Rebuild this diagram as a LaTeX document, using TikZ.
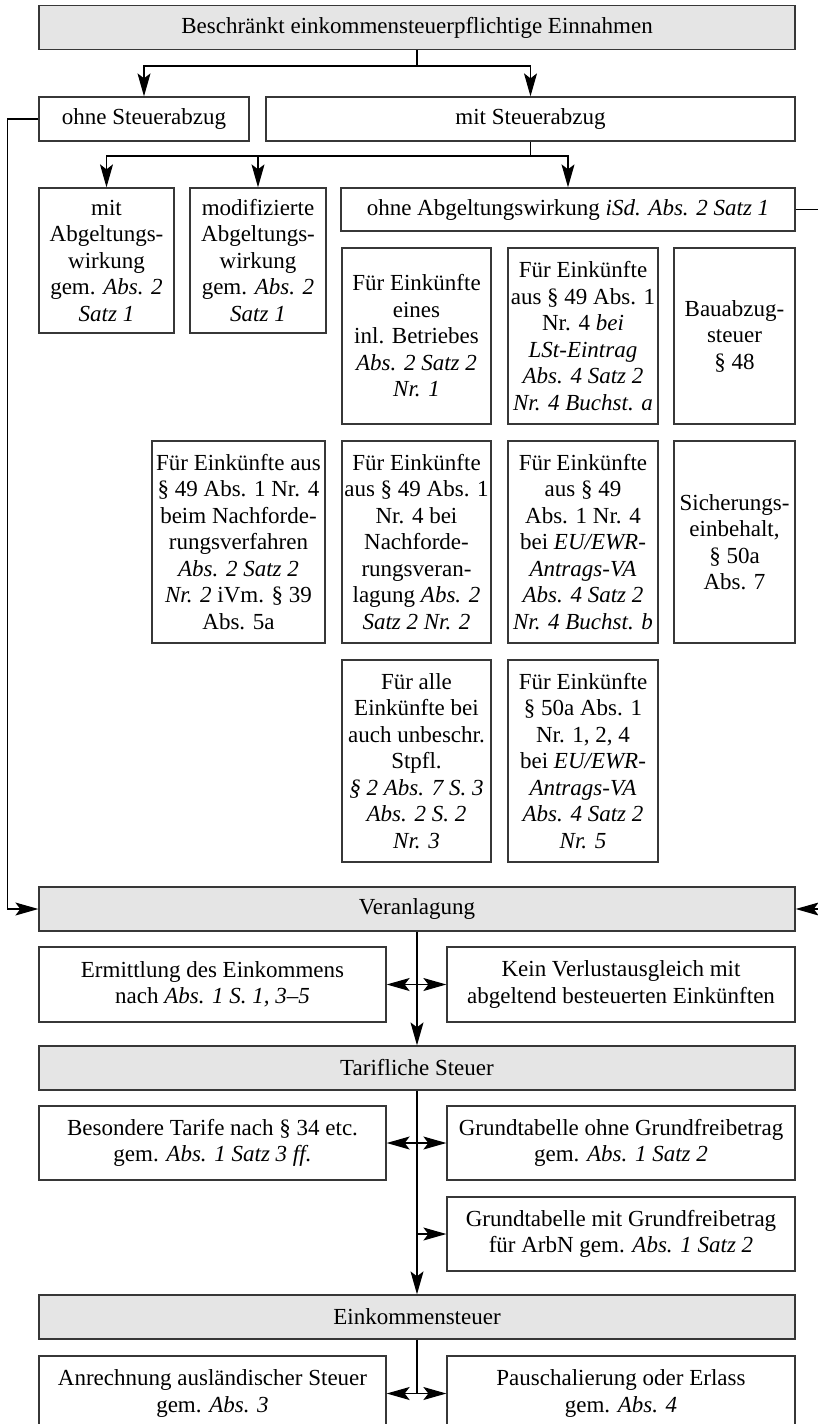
\documentclass[tikz,border=0pt]{standalone}
\usepackage{fontspec}
\setmainfont{Liberation Serif}
\usetikzlibrary{arrows.meta}
\definecolor{headgray}{RGB}{229,229,229}
\definecolor{framegray}{RGB}{55,55,55}

\begin{document}
\begin{tikzpicture}[x=1pt,y=-1pt,
        font=\fontsize{23}{26.5}\selectfont,
        cellbox/.style 2 args={draw=framegray, line width=1.3pt, align=center, inner sep=1pt, minimum width=#1, minimum height=#2},
        headbox/.style={cellbox={756pt}{44pt}, fill=headgray},
        link/.style={line width=1.2pt},
        arr/.style={link, -{Stealth[length=23pt,width=13pt,inset=5pt]}},
        darr/.style={link, {Stealth[length=23pt,width=13pt,inset=5pt]}-{Stealth[length=23pt,width=13pt,inset=5pt]}}]
        \useasboundingbox (0,0) rectangle (817,1424);
        % Einnahmen
        \node[headbox] (src) at (417,27.5) {Beschränkt einkommensteuerpflichtige Einnahmen};
        \node[cellbox={210pt}{44pt}] (ohneAbz) at (144,119) {ohne Steuerabzug};
        \node[cellbox={529pt}{44pt}] (mitAbz) at (530.5,119) {mit Steuerabzug};
        \coordinate (j1) at (417,66);
        \draw[link] (src.south) -- (j1);
        \draw[arr] (j1) -| (ohneAbz.north);
        \draw[arr] (j1) -| (mitAbz.north);
        % mit Steuerabzug
        \node[cellbox={135pt}{145pt}] (mitAbg) at (106.5,260.5) {mit\\Abgeltungs-\\wirkung\\gem. \textit{Abs. 2}\\\textit{Satz 1}};
        \node[cellbox={136pt}{145pt}] (modAbg) at (258,260.5) {modifizierte\\Abgeltungs-\\wirkung\\gem. \textit{Abs. 2}\\\textit{Satz 1}};
        \node[cellbox={454pt}{43pt}] (ohneAbg) at (568,209.5) {ohne Abgeltungswirkung \textit{iSd. Abs. 2 Satz 1}};
        \coordinate (j2) at (530.5,156);
        \draw[link] (mitAbz.south) -- (j2);
        \draw[arr] (j2) -| (mitAbg.north);
        \draw[arr] (j2) -| (modAbg.north);
        \draw[arr] (j2) -| (ohneAbg.north);
        % ohne Abgeltungswirkung
        \node[cellbox={149pt}{176pt}] (betr) at (416.5,336) {Für Einkünfte\\eines\\inl. Betriebes\\\textit{Abs. 2 Satz 2}\\\textit{Nr. 1}};
        \node[cellbox={150pt}{176pt}] (lst) at (583,336) {Für Einkünfte\\aus § 49 Abs. 1\\Nr. 4 \textit{bei}\\\textit{LSt-Eintrag}\\\textit{Abs. 4 Satz 2}\\\textit{Nr. 4 Buchst. a}};
        \node[cellbox={121pt}{176pt}] (bau) at (734.5,336) {Bauabzug-\\steuer\\§ 48};
        \node[cellbox={173pt}{202pt}] (nachfVerf) at (238.5,542) {Für Einkünfte aus\\§ 49 Abs. 1 Nr. 4\\beim Nachforde-\\rungsverfahren\\\textit{Abs. 2 Satz 2}\\\textit{Nr. 2} iVm. § 39\\Abs. 5a};
        \node[cellbox={149pt}{202pt}] (nachfVeranl) at (416.5,542) {Für Einkünfte\\aus § 49 Abs. 1\\Nr. 4 bei\\Nachforde-\\rungsveran-\\lagung \textit{Abs. 2}\\\textit{Satz 2 Nr. 2}};
        \node[cellbox={150pt}{202pt}] (euewr) at (583,542) {Für Einkünfte\\aus § 49\\Abs. 1 Nr. 4\\bei \textit{EU/EWR-}\\\textit{Antrags-VA}\\\textit{Abs. 4 Satz 2}\\\textit{Nr. 4 Buchst. b}};
        \node[cellbox={121pt}{202pt}] (sich) at (734.5,542) {Sicherungs-\\einbehalt,\\§ 50a\\Abs. 7};
        \node[cellbox={149pt}{202pt}] (unbeschr) at (416.5,761) {Für alle\\Einkünfte bei\\auch unbeschr.\\Stpfl.\\\textit{§ 2 Abs. 7 S. 3}\\\textit{Abs. 2 S. 2}\\\textit{Nr. 3}};
        \node[cellbox={150pt}{202pt}] (eu50a) at (583,761) {Für Einkünfte\\§ 50a Abs. 1\\Nr. 1, 2, 4\\bei \textit{EU/EWR-}\\\textit{Antrags-VA}\\\textit{Abs. 4 Satz 2}\\\textit{Nr. 5}};
        % Veranlagung
        \node[headbox] (veranl) at (417,909) {Veranlagung};
        \draw[arr] (ohneAbz.west) -- ++(-31,0) |- (veranl.west);
        \draw[arr] (ohneAbg.east) -- ++(26,0) |- (veranl.east);
        \node[cellbox={347pt}{75pt}] (ermittl) at (212.5,984.5) {Ermittlung des Einkommens\\nach \textit{Abs. 1 S. 1, 3–5}};
        \node[cellbox={348pt}{75pt}] (keinVA) at (621,984.5) {Kein Verlustausgleich mit\\abgeltend besteuerten Einkünften};
        % Tarif
        \node[headbox] (tarif) at (417,1068) {Tarifliche Steuer};
        \draw[arr] (veranl.south) -- (tarif.north);
        \draw[darr] (ermittl.east) -- (keinVA.west);
        \node[cellbox={347pt}{74pt}] (bes) at (212.5,1143) {Besondere Tarife nach § 34 etc.\\gem. \textit{Abs. 1 Satz 3 ff.}};
        \node[cellbox={348pt}{74pt}] (gtOhne) at (621,1143) {Grundtabelle ohne Grundfreibetrag\\gem. \textit{Abs. 1 Satz 2}};
        \node[cellbox={348pt}{74pt}] (gtMit) at (621,1234) {Grundtabelle mit Grundfreibetrag\\für ArbN gem. \textit{Abs. 1 Satz 2}};
        % Einkommensteuer
        \node[headbox] (est) at (417,1317) {Einkommensteuer};
        \draw[arr] (tarif.south) -- (est.north);
        \draw[darr] (bes.east) -- (gtOhne.west);
        \draw[arr] (tarif.south |- gtMit.west) -- (gtMit.west);
        \node[cellbox={347pt}{75pt}] (anr) at (212.5,1393.5) {Anrechnung ausländischer Steuer\\gem. \textit{Abs. 3}};
        \node[cellbox={348pt}{75pt}] (pausch) at (621,1393.5) {Pauschalierung oder Erlass\\gem. \textit{Abs. 4}};
        \draw[link] (est.south) -- (est.south |- anr.east);
        \draw[darr] (anr.east) -- (pausch.west);
\end{tikzpicture}
\end{document}
